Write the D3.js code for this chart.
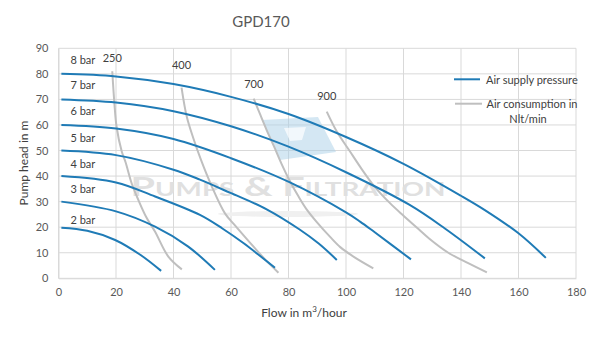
<!DOCTYPE html>
<html><head><meta charset="utf-8">
<script src="https://cdn.jsdelivr.net/npm/d3@7"></script>
<style>body{margin:0;background:#fff}svg{display:block}text{font-family:Lato,"Open Sans",sans-serif}</style>
</head><body><svg id="c" width="600" height="337"></svg>
<script>
const title = "GPD170";
const xTicks = [0,20,40,60,80,100,120,140,160,180];
const yTicks = [0,10,20,30,40,50,60,70,80,90];
const pressureLabels = ["8 bar","7 bar","6 bar","5 bar","4 bar","3 bar","2 bar"];
const bar8 = [[1,80],[20,79],[40,76],[60,71],[80,64.3],[100,55.3],[120,44.8],[140,32.3],[148.3,26.7],[160,17.6],[169.5,8]];
const bar7 = [[1,70],[20,68.8],[40,65.4],[60,59.5],[80,51.5],[100,41.5],[122,28.8],[134.4,19.5],[148.3,7.8]];
const bar6 = [[1,60],[20,58.6],[40,54.5],[60,47],[80.5,37.5],[100,25.8],[104.9,22.2],[110,18],[122.6,7.4]];
const bar5 = [[1,50],[20,48.2],[40,42.5],[49.2,38.6],[59.6,33.5],[72.4,27],[84,19],[90.5,13.6],[96.8,7.2]];
const bar4 = [[1,40],[20,37.5],[33.6,32],[49.2,24.8],[57,19.5],[64.3,13.8],[75.3,4.1]];
const bar3 = [[1,30],[20,26.2],[33.6,20.2],[45,12.5],[54.4,3.3]];
const bar2 = [[1,19.8],[10,18.6],[19.7,15],[28.3,9.3],[35.7,2.9]];
const pressureSeries = [bar8,bar7,bar6,bar5,bar4,bar3,bar2];
const airLabels = ["250","400","700","900"];
const air250 = [[18.7,81],[19.4,69.1],[20.2,59.3],[22,49.6],[23.3,45.5],[25.5,37],[27.8,30.6],[30.5,24],[33.6,18.2],[38.2,8.5],[42.9,3.5]];
const air400 = [[42.8,74.6],[44.6,63.3],[46.9,54.8],[49.5,46.5],[53.3,36],[57.9,25.4],[61,21.2],[64,17.3],[68,12.2],[72,7.2],[76.5,2.2]];
const air700 = [[67.9,70.3],[70,64.5],[72.4,58],[75,51.5],[77.5,45],[80.5,38],[83.5,32],[86.3,27],[90,21.8],[94.4,16.3],[98,12.2],[103,8.2],[109.5,3.9]];
const air900 = [[93.3,65.2],[96.8,57.4],[101.4,49.6],[105,43.5],[109.5,36.5],[115.3,29.4],[120,24.5],[124.5,20],[129,15.5],[135.6,10],[142.5,5.9],[149,2.3]];
const airSeries = [air250,air400,air700,air900];
const legendLabels = ["Air supply pressure","Air consumption in","Nlt/min"];

const svg = d3.select("#c");
const L=58.5,R=576,T=48.3,B=278.3;
const x = d3.scaleLinear().domain([0,180]).range([L,R]);
const y = d3.scaleLinear().domain([0,90]).range([B,T]);
const blue="#1f7bb6", grey="#bfbfbf", txt="#595959", dark="#404040";

// gridlines
const g = svg.append("g");
g.selectAll(".vx").data(xTicks).join("line").attr("x1",d=>x(d)).attr("x2",d=>x(d)).attr("y1",T).attr("y2",B)
 .attr("stroke","#d9d9d9").attr("stroke-width",1);
g.selectAll(".hy").data(yTicks).join("line").attr("y1",d=>y(d)).attr("y2",d=>y(d)).attr("x1",L).attr("x2",R)
 .attr("stroke","#d9d9d9").attr("stroke-width",1);

// axes
const xa = svg.append("g").attr("transform",`translate(0,${B})`).call(d3.axisBottom(x).tickValues(xTicks).tickSize(0).tickPadding(10));
const ya = svg.append("g").attr("transform",`translate(${L},0)`).call(d3.axisLeft(y).tickValues(yTicks).tickSize(0).tickPadding(10));
[xa,ya].forEach(a=>{a.select(".domain").attr("stroke","#d9d9d9");a.selectAll("text").attr("fill",txt).attr("font-size",11).attr("font-family","Lato,sans-serif");});

// watermark
svg.append("path").attr("d","M262,120 L318,117 L336,152 L280,160 Z").attr("fill","#a9cfe8").attr("opacity",0.5);
svg.append("path").attr("d","M284,128 L306,127 L302,140 L290,141 Z").attr("fill","#ffffff").attr("opacity",0.7);
svg.append("text").attr("x",288).attr("y",196).attr("text-anchor","middle").attr("font-size",27).attr("font-weight","bold")
 .attr("font-variant","small-caps").attr("fill","#e0e0e0").attr("textLength",315).attr("lengthAdjust","spacingAndGlyphs").text("Pumps & Filtration");
svg.append("ellipse").attr("cx",288).attr("cy",214).attr("rx",70).attr("ry",3).attr("fill","#f0f0f0");

const line = d3.line().x(d=>x(d[0])).y(d=>y(d[1])).curve(d3.curveCatmullRom.alpha(0.5));

svg.selectAll(".air").data(airSeries).join("path").attr("d",line).attr("fill","none").attr("stroke",grey).attr("stroke-width",2);
svg.selectAll(".pr").data(pressureSeries).join("path").attr("d",line).attr("fill","none").attr("stroke",blue).attr("stroke-width",2);

// pressure labels
const plOff=[-14,-14,-14,-13,-12.5,-12.5,-8];
svg.selectAll(".pl").data(pressureSeries).join("text")
 .attr("x",x(8.5)).attr("y",(d,i)=>y(d[0][1])+plOff[i]+4).attr("text-anchor","middle")
 .attr("font-size",11).attr("fill",dark).text((d,i)=>pressureLabels[i]);

// air labels
const alOff=[-13,-23,-15,-16];
svg.selectAll(".al").data(airSeries).join("text")
 .attr("x",d=>x(d[0][0])).attr("y",(d,i)=>y(d[0][1])+alOff[i]+4).attr("text-anchor","middle")
 .attr("font-size",11).attr("fill",dark).text((d,i)=>airLabels[i]);

// title
svg.append("text").attr("x",261).attr("y",27).attr("text-anchor","middle").attr("font-size",15).attr("fill",txt).text(title);
// axis titles
svg.append("text").attr("transform","translate(28,163) rotate(-90)").attr("text-anchor","middle").attr("font-size",12).attr("fill",dark).text("Pump head in m");
const xt = svg.append("text").attr("x",304).attr("y",317).attr("text-anchor","middle").attr("font-size",12).attr("fill",dark);
xt.append("tspan").text("Flow  in m");
xt.append("tspan").attr("font-size",8).attr("dy",-5).text("3");
xt.append("tspan").attr("dy",5).text("/hour");

// legend
svg.append("line").attr("x1",454).attr("x2",480).attr("y1",79.3).attr("y2",79.3).attr("stroke",blue).attr("stroke-width",2);
svg.append("text").attr("x",486).attr("y",83.5).attr("font-size",11).attr("fill",dark).text(legendLabels[0]);
svg.append("line").attr("x1",455).attr("x2",482).attr("y1",103.7).attr("y2",103.7).attr("stroke",grey).attr("stroke-width",2);
svg.append("text").attr("x",532).attr("y",108).attr("text-anchor","middle").attr("font-size",11).attr("fill",dark).text(legendLabels[1]);
svg.append("text").attr("x",528).attr("y",123).attr("text-anchor","middle").attr("font-size",11).attr("fill",dark).text(legendLabels[2]);
</script></body></html>
